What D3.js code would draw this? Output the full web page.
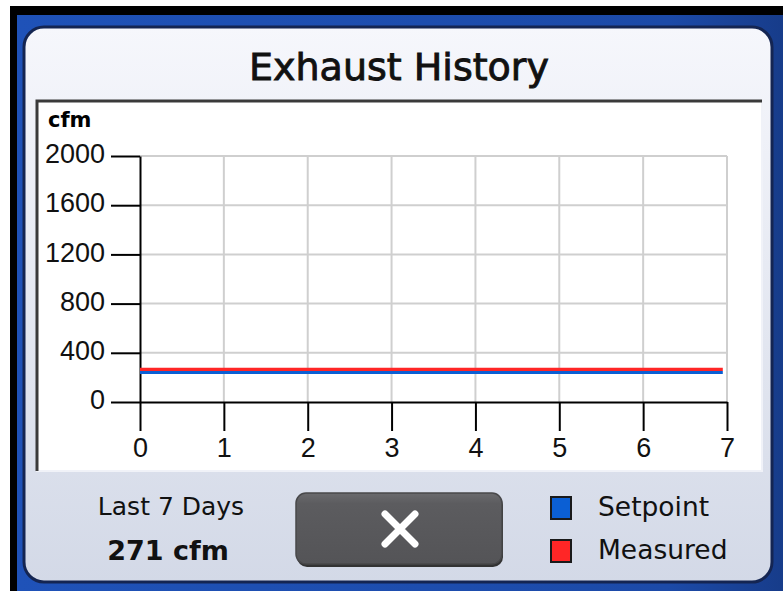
<!DOCTYPE html>
<html>
<head>
<meta charset="utf-8">
<script src="https://cdn.jsdelivr.net/npm/d3@7"></script>
<style>
  html, body { margin: 0; padding: 0; background: #fff; }
  svg { display: block; }
</style>
</head>
<body>
<div id="chart"></div>
<script>
const TITLE = 'Exhaust History'
const UNIT = 'cfm'
const DAYS = [0, 1, 2, 3, 4, 5, 6, 6.95]
const SETPOINT = [240, 240, 240, 240, 240, 240, 240, 240]
const MEASURED = [265, 265, 265, 265, 265, 265, 265, 265]
const Y_TICKS = [0, 400, 800, 1200, 1600, 2000]
const X_TICKS = [0, 1, 2, 3, 4, 5, 6, 7]
const PERIOD_LABEL = 'Last 7 Days'
const AVERAGE_LABEL = '271 cfm'
const SERIES = [
  { name: 'Setpoint', color: '#0b5fd4', values: SETPOINT },
  { name: 'Measured', color: '#ff2626', values: MEASURED }
]

const width = 783, height = 594
const PLOT = { left: 140, right: 727, top: 156, bottom: 402 }
const TICK = 29
const AXIS_FONT = '"Liberation Sans", Arial, sans-serif'

let svg = d3.select('#chart').append('svg')
  .attr('width', width)
  .attr('height', height)

let defs = svg.append('defs')

let panelGrad = defs.append('linearGradient')
  .attr('id', 'panel-grad')
  .attr('x1', 0).attr('y1', 0).attr('x2', 0).attr('y2', 1)
panelGrad.append('stop').attr('offset', '0%').attr('stop-color', '#f6f7fc')
panelGrad.append('stop').attr('offset', '100%').attr('stop-color', '#d3d9e7')

let frameGrad = defs.append('linearGradient')
  .attr('id', 'frame-grad')
  .attr('x1', 0).attr('y1', 0).attr('x2', 1).attr('y2', 0)
frameGrad.append('stop').attr('offset', '0%').attr('stop-color', '#1f52b8')
frameGrad.append('stop').attr('offset', '85%').attr('stop-color', '#1c4aa8')
frameGrad.append('stop').attr('offset', '100%').attr('stop-color', '#173c8a')

let btnGrad = defs.append('linearGradient')
  .attr('id', 'btn-grad')
  .attr('x1', 0).attr('y1', 0).attr('x2', 0).attr('y2', 1)
btnGrad.append('stop').attr('offset', '0%').attr('stop-color', '#6a6a6d')
btnGrad.append('stop').attr('offset', '15%').attr('stop-color', '#5c5c5f')
btnGrad.append('stop').attr('offset', '100%').attr('stop-color', '#545457')

// outer frame
svg.append('rect')
  .attr('x', 10).attr('y', 6)
  .attr('width', width - 10).attr('height', 585)
  .attr('fill', '#000')

svg.append('rect')
  .attr('x', 17).attr('y', 15)
  .attr('width', width - 17).attr('height', 576)
  .attr('fill', 'url(#frame-grad)')

// panel
svg.append('rect')
  .attr('x', 24).attr('y', 27)
  .attr('width', 748).attr('height', 555)
  .attr('rx', 20)
  .attr('fill', 'url(#panel-grad)')
  .attr('stroke', '#142552')
  .attr('stroke-width', 3)

svg.append('text')
  .attr('x', 399)
  .attr('y', 80)
  .attr('text-anchor', 'middle')
  .attr('font-family', '"DejaVu Sans", sans-serif')
  .attr('font-size', 38)
  .attr('fill', '#111')
  .attr('stroke', '#111')
  .attr('stroke-width', 0.9)
  .text(TITLE)

// chart box
svg.append('rect')
  .attr('x', 37).attr('y', 101)
  .attr('width', 725).attr('height', 370)
  .attr('fill', '#fff')
  .attr('stroke', '#f0f2f8')
  .attr('stroke-width', 2)

svg.append('path')
  .attr('d', 'M37 471V101H762')
  .attr('fill', 'none')
  .attr('stroke', '#3a3a3a')
  .attr('stroke-width', 3)

svg.append('text')
  .attr('x', 48)
  .attr('y', 127)
  .attr('font-family', '"DejaVu Sans", sans-serif')
  .attr('font-weight', 'bold')
  .attr('font-size', 21)
  .attr('fill', '#000')
  .text(UNIT)

let x = d3.scaleLinear()
  .domain([0, 7])
  .range([PLOT.left, PLOT.right])

let y = d3.scaleLinear()
  .domain([0, 2000])
  .range([PLOT.bottom, PLOT.top])

// grid
let grid = svg.append('g')
  .attr('stroke', '#cfcfcf')
  .attr('stroke-width', 2)

grid.selectAll('.gx')
  .data(X_TICKS.slice(1))
  .enter().append('line')
    .attr('x1', (d) => x(d)).attr('x2', (d) => x(d))
    .attr('y1', y(2000)).attr('y2', y(0))

grid.selectAll('.gy')
  .data(Y_TICKS.slice(1))
  .enter().append('line')
    .attr('x1', x(0)).attr('x2', x(7))
    .attr('y1', (d) => y(d)).attr('y2', (d) => y(d))

// axes
let yAxis = svg.append('g')
  .attr('transform', 'translate(' + PLOT.left + ',0)')
  .call(d3.axisLeft(y).tickValues(Y_TICKS).tickFormat(d3.format('d'))
    .tickSize(TICK).tickPadding(6).tickSizeOuter(0))

let xAxis = svg.append('g')
  .attr('transform', 'translate(0,' + PLOT.bottom + ')')
  .call(d3.axisBottom(x).tickValues(X_TICKS).tickFormat(d3.format('d'))
    .tickSize(TICK).tickPadding(8).tickSizeOuter(0))

;[xAxis, yAxis].forEach((ax) => {
  ax.select('.domain').attr('stroke', '#000').attr('stroke-width', 2)
  ax.selectAll('.tick line').attr('stroke', '#000').attr('stroke-width', 2)
  ax.selectAll('.tick text')
    .attr('font-family', AXIS_FONT)
    .attr('font-size', 27)
    .attr('fill', '#111')
})
yAxis.selectAll('.tick text').attr('dy', '0.25em')
xAxis.selectAll('.tick text').attr('dy', '0.68em')

// series
let line = d3.line()
  .x((d) => x(d[0]))
  .y((d) => y(d[1]))

svg.selectAll('.series')
  .data(SERIES)
  .enter().append('path')
    .attr('class', 'series')
    .attr('fill', 'none')
    .attr('stroke', (d) => d.color)
    .attr('stroke-width', 3.2)
    .attr('d', (d) => line(d.values.map((v, i) => [DAYS[i], v])))

// footer
svg.append('text')
  .attr('x', 171).attr('y', 515)
  .attr('text-anchor', 'middle')
  .attr('font-family', '"DejaVu Sans", sans-serif')
  .attr('font-size', 25)
  .attr('fill', '#111')
  .text(PERIOD_LABEL)

svg.append('text')
  .attr('x', 168).attr('y', 560)
  .attr('text-anchor', 'middle')
  .attr('font-family', '"DejaVu Sans", sans-serif')
  .attr('font-weight', 'bold')
  .attr('font-size', 27)
  .attr('fill', '#111')
  .text(AVERAGE_LABEL)

// close button
let btn = svg.append('g')
btn.append('rect')
  .attr('x', 297).attr('y', 495)
  .attr('width', 206).attr('height', 72)
  .attr('rx', 10)
  .attr('fill', '#333')
btn.append('rect')
  .attr('x', 296).attr('y', 493)
  .attr('width', 206).attr('height', 71)
  .attr('rx', 10)
  .attr('fill', 'url(#btn-grad)')
  .attr('stroke', '#48484a')
  .attr('stroke-width', 1.5)
btn.append('path')
  .attr('d', 'M385 514L415 544M415 514L385 544')
  .attr('stroke', '#fff')
  .attr('stroke-width', 7)
  .attr('stroke-linecap', 'round')

// legend
let legend = svg.append('g')
  .selectAll('.legend')
  .data(SERIES)
  .enter().append('g')
    .attr('transform', (d, i) => 'translate(551,' + (497 + i * 43) + ')')

legend.append('rect')
  .attr('width', 20).attr('height', 22)
  .attr('fill', (d) => d.color)
  .attr('stroke', '#1a1a1a')
  .attr('stroke-width', 2)

legend.append('text')
  .attr('x', 47).attr('y', 19)
  .attr('font-family', '"DejaVu Sans", sans-serif')
  .attr('font-size', 26.5)
  .attr('fill', '#111')
  .text((d) => d.name)
</script>
</body>
</html>
